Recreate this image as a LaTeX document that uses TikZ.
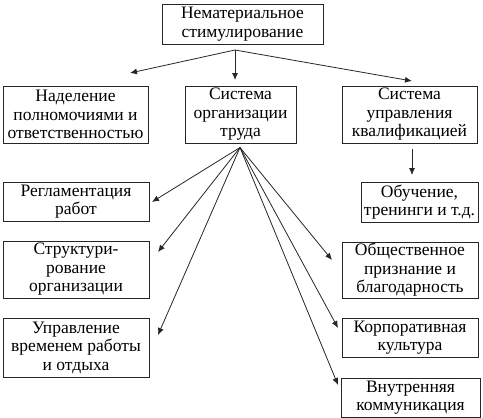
\documentclass[tikz,border=0pt]{standalone}
\usepackage{fontspec}
\setmainfont{Liberation Serif}
\usetikzlibrary{arrows.meta}

\begin{document}
\begin{tikzpicture}[x=1pt, y=-1pt, font=\fontsize{17.5}{18.5}\selectfont,
		box/.style={draw=black!85, line width=0.8pt, align=center, inner sep=0pt},
		arr/.style={draw=black!85, line width=0.8pt, -{Latex[length=7pt,width=6pt]}}
		]
		\useasboundingbox (0,0) rectangle (483,418);
		% top level
		\node[box, minimum width=161pt, minimum height=40pt] (nemat) at (242.5,24) {Нематериальное\\стимулирование};
		\node[box, minimum width=145pt, minimum height=57pt] (nadel) at (75.5,114.5) {Наделение\\полномочиями и\\ответственностью};
		\node[box, minimum width=111pt, minimum height=57pt] (trud) at (240.5,114.5) {Система\\организации\\труда};
		\node[box, minimum width=135pt, minimum height=57pt] (kval) at (409.5,114.5) {Система\\управления\\квалификацией};
		% left column
		\node[box, minimum width=146pt, minimum height=39pt] (reglam) at (76,201.5) {Регламентация\\работ};
		\node[box, minimum width=146pt, minimum height=57pt] (struct) at (76,269.5) {Структури-\\рование\\организации};
		\node[box, minimum width=146pt, minimum height=59pt] (vremya) at (76,347.5) {Управление\\временем работы\\и отдыха};
		% right column
		\node[box, minimum width=117pt, minimum height=40pt] (obuch) at (419.5,202) {Обучение,\\тренинги и т.д.};
		\node[box, minimum width=136pt, minimum height=56pt] (priznan) at (410,270) {Общественное\\признание и\\благодарность};
		\node[box, minimum width=136pt, minimum height=39pt] (korp) at (410,337.5) {Корпоративная\\культура};
		\node[box, minimum width=139pt, minimum height=39pt] (komm) at (410.5,397.5) {Внутренняя\\коммуникация};
		% arrow ends
		\coordinate (fork) at (235,50);
		\coordinate (apex) at (240,147.5);
		\coordinate (t1) at (130,73);
		\coordinate (t2) at (235,80);
		\coordinate (t3) at (412,81);
		\coordinate (s1) at (152,202);
		\coordinate (s2) at (158,252);
		\coordinate (s3) at (158,335);
		\coordinate (s4) at (332,260);
		\coordinate (s5) at (338,328);
		\coordinate (s6) at (338,385);
		\coordinate (k1) at (412,149);
		\coordinate (k2) at (412,175);
		\foreach \t in {t1,t2,t3} \draw[arr] (fork) -- (\t);
		\foreach \s in {s1,s2,s3,s4,s5,s6} \draw[arr] (apex) -- (\s);
		\draw[arr] (k1) -- (k2);
	\end{tikzpicture}
\end{document}
